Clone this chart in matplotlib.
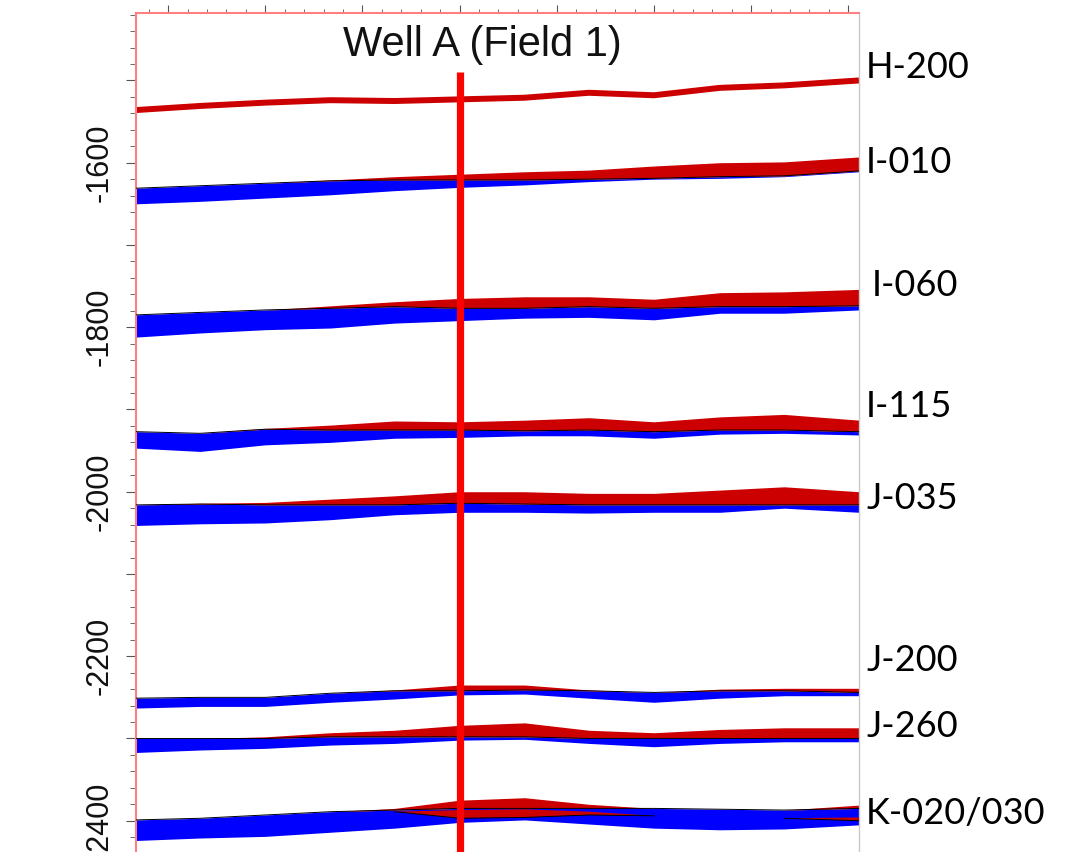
import numpy as np
import matplotlib.pyplot as plt
from matplotlib.ticker import MultipleLocator
import matplotlib.transforms as mtransforms

plt.rcParams["font.family"] = ["Liberation Sans", "DejaVu Sans"]
plt.rcParams["ytick.labelsize"] = 22
plt.rcParams["ytick.major.pad"] = 8
plt.rcParams["ytick.major.size"] = 7.2
plt.rcParams["ytick.minor.size"] = 4.3
plt.rcParams["ytick.color"] = "#555555"
plt.rcParams["ytick.labelcolor"] = "#111111"
plt.rcParams["xtick.color"] = "#555555"
plt.rcParams["xtick.major.size"] = 6
plt.rcParams["xtick.minor.size"] = 3

nan = np.nan

# distance along the section (one unit = one major tick)
dist = [-0.33, 0.33, 1.0, 1.67, 2.33, 3.0, 3.67, 4.33, 5.0, 5.68, 6.34, 7.11]

# H-200 is drawn as a single line
h200 = [-1536, -1531, -1527, -1524, -1525, -1523, -1521, -1515, -1518, -1509, -1506, -1500]

# each horizon: top of red band, reference surface, base of blue band
i010_top = [-1631, -1628, -1625, -1621, -1617, -1614, -1611, -1609, -1604, -1600, -1599, -1593]
i010_mid = [-1631, -1628, -1625, -1622, -1621, -1621, -1621, -1620, -1619, -1617, -1616, -1610]
i010_base = [-1650, -1647, -1643, -1639, -1634, -1630, -1627, -1623, -1620, -1619, -1617, -1611]

i060_top = [-1785, -1782, -1779, -1774, -1769, -1765, -1763, -1763, -1766, -1758, -1757, -1754]
i060_mid = [-1785, -1782, -1779, -1777, -1775, -1777, -1777, -1775, -1777, -1775, -1775, -1774]
i060_base = [-1812, -1807, -1803, -1801, -1795, -1792, -1789, -1788, -1791, -1783, -1783, -1779]

i115_top = [-1927, -1929, -1923, -1919, -1914, -1915, -1913, -1910, -1915, -1909, -1906, -1913]
i115_mid = [-1927, -1929, -1924, -1925, -1925, -1925, -1926, -1925, -1927, -1925, -1925, -1927]
i115_base = [-1947, -1951, -1943, -1940, -1935, -1934, -1932, -1932, -1935, -1930, -1929, -1931]

j035_top = [-2016, -2014, -2013, -2009, -2005, -2000, -2000, -2002, -2002, -1998, -1994, -2000]
j035_mid = [-2016, -2015, -2016, -2016, -2016, -2014, -2015, -2016, -2016, -2016, -2016, -2016]
j035_base = [-2041, -2039, -2038, -2034, -2028, -2025, -2025, -2026, -2025, -2025, -2020, -2025]

j200_top = [-2251, -2250, -2250, -2245, -2241, -2235, -2235, -2241, -2244, -2240, -2239, -2239]
j200_mid = [-2251, -2250, -2250, -2245, -2242, -2242, -2241, -2242, -2244, -2242, -2242, -2244]
j200_base = [-2263, -2261, -2261, -2256, -2252, -2247, -2246, -2251, -2256, -2251, -2248, -2248]

j260_top = [-2300, -2300, -2298, -2293, -2290, -2284, -2281, -2290, -2293, -2289, -2287, -2287]
j260_mid = [-2300, -2300, -2300, -2298, -2298, -2298, -2298, -2300, -2300, -2300, -2300, -2300]
j260_base = [-2317, -2314, -2312, -2308, -2306, -2302, -2301, -2306, -2310, -2306, -2304, -2304]

k020_top = [-2399, -2397, -2393, -2389, -2385, -2375, -2372, -2380, -2385, -2386, -2387, -2381]
k020_mid = [-2399, -2397, -2393, -2389, -2387, -2385, -2385, -2385, -2385, -2386, -2387, -2385]
k020_base = [-2424, -2421, -2419, -2414, -2409, -2402, -2399, -2404, -2409, -2411, -2410, -2405]

# K-030 lens inside the K-020 band
k030_top = [nan, nan, nan, nan, -2389, -2387, -2386, -2389, -2394, nan, -2397, -2396]
k030_base = [nan, nan, nan, nan, -2389, -2397, -2396, -2393, -2394, nan, -2397, -2400]

names = ["H-200", "I-010", "I-060", "I-115", "J-035", "J-200", "J-260", "K-020/030"]
label_depth = [-1484, -1600, -1749, -1896, -2008, -2205, -2285, -2391]
label_shift = [0, 0, 0.008, 0, 0, 0, 0, 0]

depth_ticks = [-2400, -2300, -2200, -2100, -2000, -1900, -1800, -1700, -1600, -1500]
depth_labels = ["-2400", "", "-2200", "", "-2000", "", "-1800", "", "-1600", ""]

well_x = 3.0
well_top = -1490

bands = [
    (i010_top, i010_mid, i010_base),
    (i060_top, i060_mid, i060_base),
    (i115_top, i115_mid, i115_base),
    (j035_top, j035_mid, j035_base),
    (j200_top, j200_mid, j200_base),
    (j260_top, j260_mid, j260_base),
    (k020_top, k020_mid, k020_base),
]

RED = "#cc0000"
BLUE = "#0000ff"

fig = plt.figure(figsize=(10.73, 8.52), dpi=100)
ax = fig.add_axes([136 / 1073, 0.0, 723 / 1073, 1 - 13 / 852])

x = np.array(dist)
for top, mid, base in bands:
    ax.fill_between(x, base, mid, color=BLUE, lw=0, zorder=2)
    ax.fill_between(x, mid, top, color=RED, lw=0, zorder=2)
    ax.plot(x, mid, color="black", lw=0.7, zorder=3)

ax.fill_between(x, k030_base, k030_top, color=RED, lw=0, zorder=3)
ax.plot(x, k030_base, color="black", lw=0.7, zorder=3)

ax.plot(x, h200, color=RED, lw=4.3, solid_capstyle="butt", zorder=2)

# well trajectory
ax.plot([well_x, well_x], [well_top, -2500], color="#ff0000", lw=5.2,
        solid_capstyle="butt", zorder=5)

ax.set_xlim(-0.33, 7.11)
ax.set_ylim(-2438, -1418)

ax.text(3.23, -1457, "Well A (Field 1)", ha="center", va="center",
        fontsize=30, color="#111111")

trans = mtransforms.blended_transform_factory(ax.transAxes, ax.transData)
for name, d, s in zip(names, label_depth, label_shift):
    ax.text(1.0097 + s, d, name, transform=trans, ha="left", va="center",
            fontsize=26, family="Lato", color="black", clip_on=False)

# top axis: ticks only
ax.xaxis.tick_top()
ax.xaxis.set_major_locator(MultipleLocator(1))
ax.xaxis.set_minor_locator(MultipleLocator(0.2))
ax.xaxis.set_ticklabels([])

# depth axis
ax.set_yticks(depth_ticks)
ax.set_yticklabels(depth_labels, rotation=90, va="center")
ax.yaxis.set_minor_locator(MultipleLocator(20))

ax.spines["left"].set_color("#ff8080")
ax.spines["left"].set_linewidth(1.5)
ax.spines["top"].set_color("#ff8080")
ax.spines["top"].set_linewidth(1.5)
ax.spines["right"].set_color("#c8c8c8")
ax.spines["right"].set_linewidth(1.0)
ax.spines["bottom"].set_visible(False)

fig.savefig("out.png", dpi=100)
